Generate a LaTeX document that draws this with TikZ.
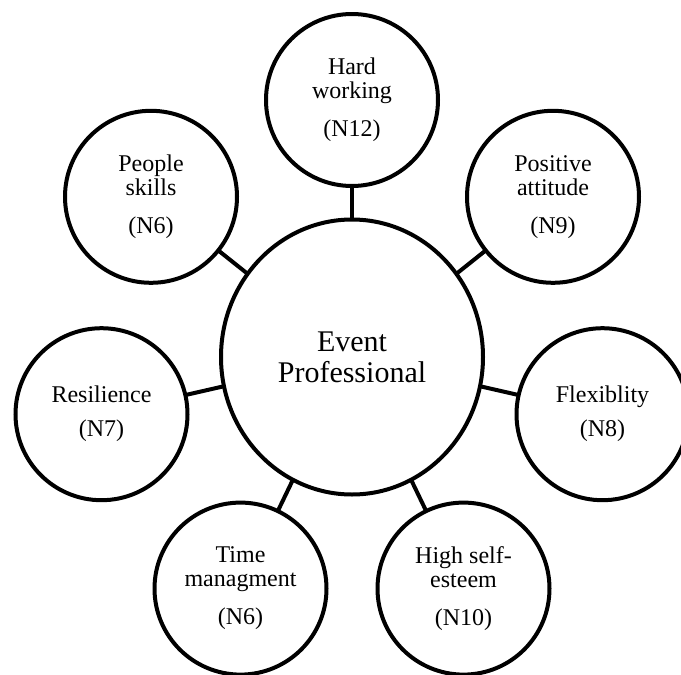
\documentclass[tikz,border=0pt]{standalone}
\usepackage{fontspec}
\setmainfont{Liberation Serif}
\usetikzlibrary{shapes.geometric}
\begin{document}
\begin{tikzpicture}[x=1pt,y=-1pt,
  outer/.style={circle,draw=black,line width=4pt,minimum size=172pt,inner sep=0pt,outer sep=0pt,
    align=center,font=\fontsize{24}{24}\selectfont},
  center/.style={ellipse,draw=black,line width=4pt,minimum width=262pt,minimum height=275pt,inner sep=0pt,outer sep=0pt,
    align=center,font=\fontsize{30}{31}\selectfont},
  link/.style={line width=4pt,black}]
\useasboundingbox (0,0) rectangle (681,675);
\node[center] (c) at (352,357) {Event\\Professional};
\node[outer] (hw) at (352,100) {Hard\\working\\[14pt](N12)};
\node[outer] (ps) at (151,196.8) {People\\skills\\[14pt](N6)};
\node[outer] (re) at (101.5,414.2) {Resilience\\[10pt](N7)};
\node[outer] (tm) at (240.5,588.6) {Time\\managment\\[14pt](N6)};
\node[outer] (hs) at (463.5,588.6) {High self-\\esteem\\[14pt](N10)};
\node[outer] (fl) at (602.5,414.2) {Flexiblity\\[10pt](N8)};
\node[outer] (pa) at (553,196.8) {Positive\\attitude\\[14pt](N9)};
\foreach \n in {hw,ps,re,tm,hs,fl,pa}{\draw[link] (c) -- (\n);}
\end{tikzpicture}
\end{document}
